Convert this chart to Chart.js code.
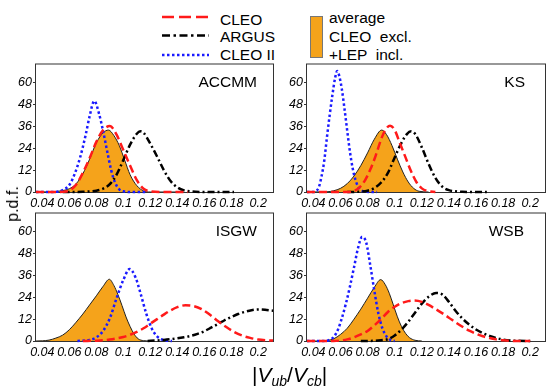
<!DOCTYPE html>
<html>
<head>
<meta charset="utf-8">
<script src="https://cdn.jsdelivr.net/npm/chart.js@4.4.1/dist/chart.umd.min.js"></script>
<style>
  body { margin: 0; width: 553px; height: 388px; overflow: hidden; position: relative; background: #fff;
         font-family: "Liberation Sans", Arial, sans-serif; color: #000; }
  canvas { position: absolute; }
  .t { position: absolute; white-space: pre; line-height: 1; font-size: 15.5px; }
  .r { text-align: right; }
  #legendLines { position: absolute; left: 0; top: 0; }
  #avgBox { position: absolute; left: 310px; top: 16px; width: 11px; height: 40px; background: #F5A31B; border: 1px solid #777; }
  #ytitle { position: absolute; left: 13px; top: 204px; font-size: 16px; line-height: 1; transform: translate(-50%, -50%) rotate(-90deg); white-space: pre; }
  #xtitle { position: absolute; left: 252px; top: 364px; font-size: 21px; line-height: 1; white-space: pre; }
  #xtitle i { font-style: italic; }
  #xtitle .s { font-size: 14px; font-style: italic; position: relative; top: 4px; }
</style>
</head>
<body>
<svg id="legendLines" width="553" height="70">
  <line x1="162" y1="17" x2="209" y2="17" stroke="#FF1A1A" stroke-width="2.5" stroke-dasharray="12 5"/>
  <line x1="162" y1="35.5" x2="209" y2="35.5" stroke="#000" stroke-width="2.5" stroke-dasharray="8 3.5 2.5 3.5"/>
  <line x1="162" y1="55" x2="209" y2="55" stroke="#1A1AFF" stroke-width="2.5" stroke-dasharray="2.5 2.5"/>
</svg>
<div class="t" style="left:220px;top:11.5px">CLEO</div>
<div class="t" style="left:220px;top:28.7px">ARGUS</div>
<div class="t" style="left:220px;top:47.2px">CLEO II</div>
<div id="avgBox"></div>
<div class="t" style="left:329px;top:10px">average</div>
<div class="t" style="left:329px;top:28.7px">CLEO  excl.</div>
<div class="t" style="left:329px;top:47.2px">+LEP  incl.</div>

<canvas id="cAccmm" width="280" height="154" style="left:0;top:56px"></canvas>
<canvas id="cKs" width="282" height="154" style="left:271px;top:56px"></canvas>
<canvas id="cIsgw" width="280" height="154" style="left:0;top:205px"></canvas>
<canvas id="cWsb" width="282" height="154" style="left:271px;top:205px"></canvas>

<div class="t r" style="right:296px;top:74.2px">ACCMM</div>
<div class="t r" style="right:28px;top:74.2px">KS</div>
<div class="t r" style="right:296px;top:223.4px">ISGW</div>
<div class="t r" style="right:29px;top:223.4px">WSB</div>

<div id="ytitle">p.d.f.</div>
<div id="xtitle">|<i>V</i><span class="s">ub</span>/<i>V</i><span class="s">cb</span>|</div>

<script>
const xTicks = [0.04, 0.06, 0.08, 0.1, 0.12, 0.14, 0.16, 0.18, 0.2];
const yTicks = [0, 12, 24, 36, 48, 60];
const xMin = 0.0353, xMax = 0.2109, yMax = 70;

// ACCMM
const accmmAvgX = [0.0353, 0.05, 0.055, 0.06, 0.065, 0.07, 0.075, 0.08, 0.085, 0.089, 0.093, 0.097, 0.101, 0.105, 0.11, 0.115, 0.12, 0.14];
const accmmAvgY = [0, 0.3, 0.8, 1.8, 4.5, 10, 18, 27, 32.5, 34, 31, 25.5, 17.5, 9.5, 3.5, 0.6, 0, 0];
const accmmCleoX = [0.0353, 0.05, 0.055, 0.06, 0.065, 0.07, 0.075, 0.08, 0.085, 0.09, 0.095, 0.1, 0.105, 0.11, 0.115, 0.12, 0.13, 0.148];
const accmmCleoY = [0, 0, 0.1, 0.8, 4, 10.5, 18.5, 27.5, 34, 36.2, 31.5, 23, 14.5, 6.5, 1.8, 0.4, 0, 0];
const accmmArgusX = [0.055, 0.07, 0.075, 0.08, 0.085, 0.09, 0.095, 0.1, 0.105, 0.11, 0.1126, 0.115, 0.12, 0.125, 0.13, 0.135, 0.14, 0.145, 0.15, 0.16, 0.182];
const accmmArgusY = [0, 0.1, 0.3, 0.7, 1.8, 4.3, 9.5, 17.5, 26, 32, 33.3, 32.5, 26.5, 19.5, 12, 6, 2.6, 0.9, 0.3, 0, 0];
const accmmCleo2X = [0.0353, 0.048, 0.052, 0.056, 0.06, 0.064, 0.068, 0.072, 0.075, 0.0785, 0.082, 0.085, 0.088, 0.091, 0.094, 0.097, 0.1, 0.105, 0.118];
const accmmCleo2Y = [0, 0, 0.3, 1.4, 3.8, 10, 19, 31, 41.5, 50, 43, 33.5, 22.5, 12, 5, 1.5, 0.4, 0, 0];

// KS
const ksAvgX = [0.0353, 0.05, 0.055, 0.06, 0.065, 0.07, 0.075, 0.08, 0.085, 0.0904, 0.094, 0.098, 0.102, 0.106, 0.11, 0.114, 0.118, 0.125];
const ksAvgY = [0, 0.1, 0.7, 2, 4.6, 8.8, 14.5, 21.5, 29, 34, 31.5, 25.5, 18, 11, 5.5, 2, 0.4, 0];
const ksCleoX = [0.0353, 0.065, 0.07, 0.074, 0.078, 0.082, 0.086, 0.09, 0.093, 0.0966, 0.1, 0.104, 0.108, 0.112, 0.116, 0.12, 0.125, 0.13];
const ksCleoY = [0, 0, 0.6, 2.5, 6.3, 12.3, 20, 29, 34, 36.4, 34, 26.5, 19, 11.5, 5.5, 2, 0.4, 0];
const ksArgusX = [0.065, 0.075, 0.08, 0.085, 0.09, 0.095, 0.1, 0.105, 0.109, 0.1121, 0.115, 0.12, 0.125, 0.13, 0.135, 0.14, 0.145, 0.15, 0.168];
const ksArgusY = [0, 0.2, 0.7, 2.2, 5.2, 10.5, 19, 27, 31.8, 33.3, 32, 24.5, 15.5, 7.8, 3, 1, 0.4, 0.1, 0];
const ksCleo2X = [0.0353, 0.04, 0.042, 0.044, 0.046, 0.048, 0.05, 0.052, 0.054, 0.056, 0.0576, 0.059, 0.061, 0.063, 0.065, 0.067, 0.069, 0.071, 0.073, 0.075, 0.078, 0.087];
const ksCleo2Y = [0, 0, 0.6, 2.5, 8.5, 17, 30, 42, 53, 62.5, 66.4, 64, 56.5, 45.5, 33.5, 22, 13, 6.8, 3, 1.2, 0.2, 0];

// ISGW
const isgwAvgX = [0.0353, 0.04, 0.045, 0.05, 0.055, 0.06, 0.065, 0.07, 0.075, 0.08, 0.085, 0.0896, 0.093, 0.096, 0.099, 0.102, 0.105, 0.108, 0.111, 0.115, 0.12];
const isgwAvgY = [0, 0.1, 0.5, 1.6, 3.2, 6.2, 10.3, 14.8, 19.8, 24.8, 30, 33.9, 30.5, 25.5, 19.5, 13.2, 8, 3.8, 1.2, 0.2, 0];
const isgwCleoX = [0.07, 0.08, 0.09, 0.1, 0.105, 0.11, 0.115, 0.12, 0.125, 0.13, 0.135, 0.14, 0.146, 0.152, 0.158, 0.164, 0.17, 0.176, 0.182, 0.188, 0.194, 0.2, 0.206, 0.212];
const isgwCleoY = [0, 0.2, 0.8, 2.2, 3.4, 5, 7, 9.5, 12, 14.5, 16.8, 18.6, 19.6, 19.2, 17.5, 14.5, 11, 7.8, 5, 3, 1.7, 0.8, 0.4, 0.2];
const isgwArgusX = [0.118, 0.125, 0.13, 0.135, 0.14, 0.145, 0.15, 0.155, 0.16, 0.165, 0.17, 0.175, 0.18, 0.185, 0.19, 0.195, 0.2, 0.205, 0.212];
const isgwArgusY = [0, 0.3, 0.6, 1, 1.5, 2.1, 2.8, 3.9, 5.4, 7.3, 9.3, 11.4, 13.2, 14.8, 16, 16.9, 17.3, 17.1, 16.5];
const isgwCleo2X = [0.066, 0.075, 0.08, 0.085, 0.09, 0.095, 0.1, 0.1047, 0.109, 0.113, 0.117, 0.121, 0.125, 0.13, 0.136];
const isgwCleo2Y = [0, 0.6, 2, 5.5, 12.5, 23.5, 33.5, 39.5, 35, 25.5, 15, 7, 2.5, 0.5, 0];

// WSB
const wsbAvgX = [0.0353, 0.045, 0.05, 0.055, 0.06, 0.065, 0.07, 0.075, 0.08, 0.085, 0.0897, 0.093, 0.096, 0.099, 0.102, 0.105, 0.108, 0.111, 0.115, 0.12];
const wsbAvgY = [0, 0, 0.3, 1.2, 3.6, 7, 12, 17.5, 23.5, 29.5, 33.7, 31, 26.2, 19.8, 13.3, 8, 4.2, 1.8, 0.4, 0];
const wsbCleoX = [0.0353, 0.055, 0.06, 0.065, 0.07, 0.075, 0.08, 0.085, 0.09, 0.095, 0.1, 0.105, 0.11, 0.114, 0.12, 0.125, 0.13, 0.135, 0.14, 0.145, 0.15, 0.155, 0.16, 0.165, 0.17, 0.175, 0.18, 0.19, 0.2];
const wsbCleoY = [0, 0, 0.3, 0.9, 2, 3.6, 5.5, 8.6, 12, 15.9, 18.8, 20.8, 21.9, 22.2, 21.5, 19.8, 17.6, 15.3, 12.8, 10.2, 7.8, 5.7, 4, 2.6, 1.6, 0.9, 0.4, 0, 0];
const wsbArgusX = [0.075, 0.085, 0.09, 0.095, 0.1, 0.105, 0.11, 0.115, 0.12, 0.125, 0.1305, 0.135, 0.14, 0.145, 0.15, 0.155, 0.16, 0.165, 0.17, 0.175, 0.18, 0.185, 0.19, 0.2];
const wsbArgusY = [0, 0.1, 0.4, 1, 3, 6.3, 10.5, 15.5, 20.5, 24.3, 26.4, 25.6, 21.5, 16.5, 12.3, 9, 6.3, 4.3, 2.8, 1.6, 0.8, 0.3, 0.1, 0];
const wsbCleo2X = [0.0353, 0.048, 0.052, 0.055, 0.058, 0.061, 0.064, 0.067, 0.07, 0.073, 0.076, 0.079, 0.082, 0.085, 0.088, 0.091, 0.094, 0.097, 0.1];
const wsbCleo2Y = [0, 0, 0.6, 2.2, 6, 12.5, 20.5, 30, 40.5, 51.2, 57.2, 54, 41.5, 27.5, 15, 6.8, 2.5, 0.5, 0];

const tickFont = { family: "'Liberation Sans Narrow', 'Liberation Sans', Arial, sans-serif", size: 12.5, style: "italic" };

const pts = (xs, ys) => xs.map((x, i) => ({ x, y: ys[i] }));

const boxPlugin = {
  id: "box",
  beforeDatasetsDraw(chart) {
    const a = chart.chartArea, ctx = chart.ctx;
    ctx.save();
    ctx.strokeStyle = "#333";
    ctx.lineWidth = 1;
    ctx.strokeRect(a.left - 0.5, a.top - 0.5, a.right - a.left + 1, a.bottom - a.top + 1);
    ctx.restore();
  }
};

function line(data, color, dash, order) {
  return {
    data,
    borderColor: color,
    borderWidth: 2.5,
    borderDash: dash,
    borderCapStyle: "butt",
    pointRadius: 0,
    fill: false,
    cubicInterpolationMode: "monotone",
    clip: { left: 0, top: 0, right: 0, bottom: 2 },
    order
  };
}

function makePanel(id, avg, cleo, argus, cleo2) {
  new Chart(document.getElementById(id), {
    type: "line",
    data: {
      datasets: [
        line(cleo2, "#1A1AFF", [2.5, 2.5], 3),
        line(cleo, "#FF1A1A", [8, 4], 1),
        line(argus, "#000", [7, 3, 2, 3], 2),
        {
          data: avg,
          borderColor: "#222",
          borderWidth: 1,
          backgroundColor: "#F5A31B",
          pointRadius: 0,
          fill: "origin",
          cubicInterpolationMode: "monotone",
          order: 10
        }
      ]
    },
    options: {
      responsive: false,
      animation: false,
      devicePixelRatio: 1,
      events: [],
      layout: { padding: { left: 0, top: 8, right: id === "cKs" || id === "cWsb" ? 8 : 7, bottom: 0 } },
      plugins: { legend: { display: false }, tooltip: { enabled: false } },
      scales: {
        x: {
          type: "linear",
          min: xMin,
          max: xMax,
          afterFit: s => { s.height = 18; },
          afterBuildTicks: s => { s.ticks = xTicks.map(v => ({ value: v })); },
          grid: { display: false, drawTicks: false },
          border: { display: false },
          ticks: { color: "#000", font: tickFont, padding: 4, maxRotation: 0, autoSkip: false,
                   callback: v => String(+v.toFixed(2)) }
        },
        y: {
          min: 0,
          max: yMax,
          afterFit: s => { s.width = 36; },
          afterBuildTicks: s => { s.ticks = yTicks.map(v => ({ value: v })); },
          grid: { display: true, drawOnChartArea: false, drawTicks: true, tickLength: 3, color: "#333" },
          border: { display: false },
          ticks: { color: "#000", font: tickFont, padding: 1, autoSkip: false }
        }
      }
    },
    plugins: [boxPlugin]
  });
}

makePanel("cAccmm", pts(accmmAvgX, accmmAvgY), pts(accmmCleoX, accmmCleoY), pts(accmmArgusX, accmmArgusY), pts(accmmCleo2X, accmmCleo2Y));
makePanel("cKs", pts(ksAvgX, ksAvgY), pts(ksCleoX, ksCleoY), pts(ksArgusX, ksArgusY), pts(ksCleo2X, ksCleo2Y));
makePanel("cIsgw", pts(isgwAvgX, isgwAvgY), pts(isgwCleoX, isgwCleoY), pts(isgwArgusX, isgwArgusY), pts(isgwCleo2X, isgwCleo2Y));
makePanel("cWsb", pts(wsbAvgX, wsbAvgY), pts(wsbCleoX, wsbCleoY), pts(wsbArgusX, wsbArgusY), pts(wsbCleo2X, wsbCleo2Y));
</script>
</body>
</html>
